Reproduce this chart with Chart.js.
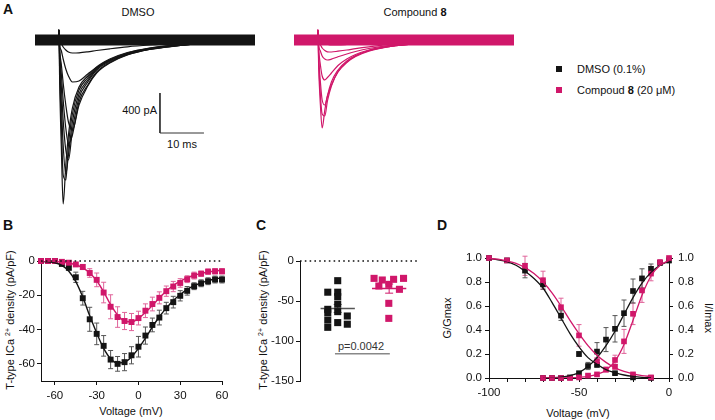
<!DOCTYPE html>
<html>
<head>
<meta charset="utf-8">
<script src="https://cdn.jsdelivr.net/npm/chart.js@4.4.1/dist/chart.umd.min.js"></script>
<style>
  body { margin: 0; width: 715px; height: 420px; position: relative; overflow: hidden; background: #fff;
         font-family: "Liberation Sans", Arial, sans-serif; color: #111; }
  canvas { position: absolute; }
  .txt { position: absolute; font-size: 11px; line-height: 1; white-space: nowrap; transform: translate(-50%, -50%); }
  .left { transform: translate(0, -50%); }
  .right { transform: translate(-100%, -50%); }
  .panel { position: absolute; font-size: 14px; font-weight: bold; line-height: 1; }
  .vt { transform: translate(-50%, -50%) rotate(-90deg); }
  .vt2 { transform: translate(-50%, -50%) rotate(90deg); }
  .sq { position: absolute; width: 6px; height: 6px; transform: translate(-50%, -50%); }
  sup { font-size: 7px; vertical-align: 4px; }
</style>
</head>
<body>
<div class="panel" style="left:3px;top:2px">A</div>
<div class="panel" style="left:3px;top:218px">B</div>
<div class="panel" style="left:256px;top:218px">C</div>
<div class="panel" style="left:437px;top:218px">D</div>

<div class="txt" style="left:138px;top:12px">DMSO</div>
<div class="txt" style="left:415px;top:12px">Compound <b>8</b></div>
<div class="txt right" style="left:157px;top:110px">400 pA</div>
<div class="txt" style="left:182px;top:144px">10 ms</div>

<div class="sq" style="left:559px;top:69px;background:#141414"></div>
<div class="txt left" style="left:577px;top:69px">DMSO (0.1%)</div>
<div class="sq" style="left:559px;top:90px;background:#d0176a"></div>
<div class="txt left" style="left:577px;top:90px">Compoud <b>8</b> (20 μM)</div>

<div class="txt vt" style="left:10px;top:320px">T-type ICa <sup>2+</sup> density (pA/pF)</div>
<div class="txt" style="left:131px;top:411px">Voltage (mV)</div>
<div class="txt vt" style="left:263px;top:320px">T-type ICa <sup>2+</sup> density (pA/pF)</div>
<div class="txt" style="left:361px;top:346px;color:#333">p=0.0042</div>
<div class="txt vt" style="left:447px;top:318px">G/Gmax</div>
<div class="txt vt2" style="left:708px;top:318px">I/Imax</div>
<div class="txt" style="left:578px;top:413px">Voltage (mV)</div>

<canvas id="trDmso" width="235" height="200" style="left:30px;top:15px"></canvas>
<canvas id="trCpd" width="231" height="200" style="left:289px;top:15px"></canvas>
<canvas id="ivChart" width="225" height="205" style="left:15px;top:215px"></canvas>
<canvas id="peakChart" width="162" height="205" style="left:268px;top:215px"></canvas>
<canvas id="gvChart" width="260" height="205" style="left:455px;top:215px"></canvas>

<script>
// ---------- A: current traces (time ms, current pA) ----------
const traceTimes = [0, 5.3, 5.45, 5.6, 6.0, 6.4, 7.0, 7.6, 8.5, 10, 12, 14, 17, 21, 26, 32, 40, 50];
const dmsoTraces = [
  [0, 0, 100, -5, -15, -25, -35, -40, -45, -45, -42, -38, -32, -25, -18, -12, -7, -3],
  [0, 0, 100, -15, -40, -70, -100, -120, -130, -128, -118, -105, -88, -68, -50, -34, -18, -8],
  [0, 0, 100, -40, -110, -190, -290, -360, -420, -410, -340, -275, -205, -140, -92, -58, -30, -12],
  [0, 0, 100, -90, -250, -430, -650, -820, -900, -650, -460, -330, -230, -150, -95, -60, -30, -12],
  [0, 0, 100, -120, -350, -600, -880, -1040, -950, -620, -450, -320, -225, -148, -93, -58, -29, -12],
  [0, 0, 100, -160, -480, -800, -1100, -1200, -900, -580, -420, -300, -215, -142, -90, -56, -28, -12],
  [0, 0, 100, -220, -650, -1050, -1340, -1150, -820, -540, -400, -290, -205, -136, -86, -54, -27, -11],
  [0, 0, 100, -300, -850, -1350, -1400, -1050, -740, -500, -380, -280, -198, -130, -83, -52, -26, -11],
  [0, 0, 100, -400, -1100, -1640, -1250, -950, -680, -470, -360, -270, -190, -125, -80, -50, -25, -10]
];
const cpdTraces = [
  [0, 0, 100, -5, -15, -25, -35, -42, -48, -48, -45, -40, -33, -25, -18, -11, -6, -2],
  [0, 0, 100, -20, -50, -80, -105, -118, -120, -112, -100, -86, -68, -48, -32, -20, -10, -4],
  [0, 0, 100, -40, -110, -160, -190, -200, -192, -168, -140, -115, -85, -58, -38, -23, -11, -4],
  [0, 0, 100, -80, -250, -360, -400, -375, -330, -255, -190, -145, -100, -66, -42, -25, -12, -5],
  [0, 0, 100, -150, -420, -600, -650, -560, -450, -320, -225, -165, -112, -72, -45, -27, -13, -5],
  [0, 0, 100, -200, -550, -740, -760, -610, -460, -315, -220, -160, -108, -70, -44, -26, -13, -5],
  [0, 0, 100, -250, -650, -880, -700, -560, -420, -300, -210, -155, -105, -68, -43, -26, -12, -5]
];
const baseTimes = [0, 50];
const baseLevel = [0, 0];
const barStart = { t: 28.4, i: -530 };
const barAmp = 400;   // pA
const barTime = 10;   // ms

// ---------- B: I-V relation ----------
const bVolts = [-70, -65, -60, -55, -50, -45, -40, -35, -30, -25, -20, -15, -10, -5, 0, 5, 10, 15, 20, 25, 30, 35, 40, 45, 50, 55, 60];
const bDmso = [0, 0, 0, -1.7, -4, -9.5, -21.7, -34, -42.5, -49.5, -57.5, -60, -59, -55, -50, -43.5, -37.3, -33, -27.5, -24, -20.3, -17.4, -14.7, -13, -11.8, -10.8, -10.8];
const bDmsoErr = [0, 0, 0, 0.5, 1, 3, 4, 7, 6.3, 6, 5.3, 4.3, 5, 5, 6, 5, 4, 4.3, 3.4, 3.4, 3, 2.5, 2, 2, 2, 2, 2];
const bCpd = [0, 0, 0, -0.5, -1, -2, -3.5, -7, -11, -18.4, -26.7, -32.7, -35, -35.6, -33.3, -29, -25.1, -21.5, -17.6, -14.9, -12.8, -10.6, -8.5, -7.4, -6.2, -6, -6];
const bCpdErr = [0, 0, 0, 0.3, 0.5, 1, 1.5, 2.5, 4, 6, 7, 6, 5, 5, 4, 4, 4, 3.5, 3, 3, 2.5, 2, 2, 1.5, 1.5, 1.5, 1.5];
const bDmsoFit = [-0.2, -0.5, -1, -2.5, -6, -12, -21, -32, -42, -51, -57, -59.5, -59, -56, -51, -45, -38.5, -32.5, -27.5, -23, -19.5, -16.5, -14.5, -12.8, -11.5, -10.5, -9.8];
const bCpdFit = [0, -0.1, -0.3, -0.6, -1.2, -2.2, -4, -7, -11.5, -18, -25.5, -31.5, -35, -35.5, -33.5, -30, -26, -21.5, -17.5, -14.3, -11.8, -9.8, -8.3, -7.2, -6.4, -5.8, -5.4];
const bTicksX = [-60, -30, 0, 30, 60];
const bTicksY = [0, -20, -40, -60];

// ---------- C: peak density scatter ----------
const cDmsoX = [0.81, 0.81, 0.81, 0.81, 0.81, 1.1, 1.1, 1.1, 1.1, 1.1, 1.1, 1.38, 1.38];
const cDmso = [-39, -60.4, -64.6, -73.8, -82.9, -24.6, -39, -44.6, -54, -63.3, -77, -68.75, -79];
const cCpdX = [2.16, 2.40, 2.73, 3.02, 2.30, 2.59, 2.90, 2.59, 2.59];
const cCpd = [-21.7, -23.75, -22.9, -21.7, -31.25, -29.2, -35.4, -52.9, -71.7];
const cGroupX = [1.1, 2.6];
const cTicksY = [0, -50, -100, -150];
const cPLine = { from: 1.02, to: 2.62, y: -116 };

// ---------- D: activation / inactivation ----------
const dInactV = [-100, -90, -80, -70, -60, -50, -40, -30, -20, -10];
const dInactDmso = [1.0, 0.98, 0.895, 0.78, 0.52, 0.2, 0.11, 0.04, 0.005, 0.0];
const dInactDmsoErr = [0, 0.01, 0.06, 0.04, 0.04, 0.02, 0.02, 0.01, 0.005, 0];
const dInactCpd = [1.0, 0.98, 0.935, 0.815, 0.59, 0.355, 0.14, 0.094, 0.03, 0.005];
const dInactCpdErr = [0, 0.01, 0.08, 0.075, 0.075, 0.09, 0.03, 0.02, 0.01, 0];
const dActV = [-70, -65, -60, -55, -50, -45, -40, -35, -30, -25, -20, -15, -10, -5, 0];
const dActDmso = [0, 0, 0, 0.005, 0.04, 0.1, 0.22, 0.32, 0.41, 0.54, 0.725, 0.83, 0.91, 0.96, 0.98];
const dActDmsoErr = [0, 0, 0, 0.005, 0.01, 0.03, 0.075, 0.1, 0.11, 0.11, 0.1, 0.08, 0.04, 0.02, 0.02];
const dActCpd = [0, 0, 0, 0, 0.005, 0.02, 0.03, 0.07, 0.15, 0.305, 0.535, 0.73, 0.87, 0.965, 1.0];
const dActCpdErr = [0, 0, 0, 0, 0.005, 0.01, 0.01, 0.02, 0.04, 0.1, 0.09, 0.1, 0.06, 0.02, 0.01];
const dFitInactV = [-100, -95, -90, -85, -80, -75, -70, -65, -60, -55, -50, -45, -40, -35, -30, -25, -20, -15, -10];
const dFitInactDmso = [0.995, 0.985, 0.97, 0.94, 0.89, 0.83, 0.75, 0.63, 0.5, 0.37, 0.26, 0.17, 0.115, 0.07, 0.045, 0.025, 0.013, 0.006, 0.003];
const dFitInactCpd = [0.995, 0.99, 0.975, 0.955, 0.92, 0.87, 0.8, 0.71, 0.6, 0.48, 0.37, 0.27, 0.19, 0.13, 0.085, 0.055, 0.035, 0.02, 0.012];
const dFitActV = [-70, -65, -60, -55, -50, -45, -40, -35, -30, -25, -20, -15, -10, -5, 0];
const dFitActDmso = [0, 0.003, 0.008, 0.02, 0.045, 0.095, 0.17, 0.27, 0.39, 0.53, 0.67, 0.79, 0.88, 0.94, 0.975];
const dFitActCpd = [0, 0, 0.001, 0.003, 0.006, 0.013, 0.03, 0.065, 0.14, 0.28, 0.48, 0.69, 0.85, 0.94, 0.98];
const dTicksX = [-100, -90, -80, -70, -60, -50, -40, -30, -20, -10, 0];
const dTicksY = [0, 0.2, 0.4, 0.6, 0.8, 1.0];

// ---------- styling ----------
const BLACK = '#141414';
const PINK = '#d0176a';
const GREY_ERR = '#555';
const PINK_ERR = '#e0649a';
const TICK_FONT = { size: 11.5 };

Chart.defaults.font.family = '"Liberation Sans", Arial, sans-serif';
Chart.defaults.font.size = 11;
Chart.defaults.color = '#111';
Chart.defaults.animation = false;
Chart.defaults.responsive = false;
Chart.defaults.events = [];
Chart.defaults.plugins.legend.display = false;
Chart.defaults.plugins.tooltip.enabled = false;

const pts = (xs, ys) => xs.map((x, i) => ({ x: x, y: ys[i] }));
const setTicks = list => scale => { scale.ticks = list.map(v => ({ value: v })); };

// error bars drawn from dataset.errors through the chart's scales
const errorBars = {
  id: 'errorBars',
  beforeDatasetsDraw(chart) {
    const ctx = chart.ctx;
    chart.data.datasets.forEach((ds, i) => {
      if (!ds.errors) return;
      const meta = chart.getDatasetMeta(i);
      const ys = chart.scales[meta.yAxisID];
      ctx.save();
      ctx.strokeStyle = ds.errorColor;
      ctx.lineWidth = 1;
      meta.data.forEach((p, j) => {
        const e = ds.errors[j];
        if (!e) return;
        const v = ds.data[j].y;
        const y1 = ys.getPixelForValue(v - e), y2 = ys.getPixelForValue(v + e);
        const cap = ds.capWidth || 2.5;
        ctx.beginPath();
        ctx.moveTo(p.x, y1); ctx.lineTo(p.x, y2);
        ctx.moveTo(p.x - cap, y1); ctx.lineTo(p.x + cap, y1);
        ctx.moveTo(p.x - cap, y2); ctx.lineTo(p.x + cap, y2);
        ctx.stroke();
      });
      ctx.restore();
    });
  }
};

function axisStyle(extra) {
  return Object.assign({
    type: 'linear',
    border: { display: true, color: '#111', width: 1 },
    grid: { display: true, drawOnChartArea: false, drawTicks: true, tickLength: 4, color: '#111' },
  }, extra);
}

// ---------- A ----------
function traceChart(id, x0, traces, color, bar) {
  const cv = document.getElementById(id);
  const left = parseFloat(cv.style.left), top = parseFloat(cv.style.top);
  const PX_MS = 4.4, PX_PA = 0.1, Y0 = 40;
  const datasets = [{
    data: pts(baseTimes, baseLevel), borderColor: color, borderWidth: 11,
    pointRadius: 0, clip: false
  }];
  traces.forEach(tr => datasets.push({
    data: pts(traceTimes, tr), borderColor: color, borderWidth: 1.2,
    pointRadius: 0, cubicInterpolationMode: 'monotone', clip: false
  }));
  if (bar) {
    datasets.push({
      data: [
        { x: barStart.t, y: barStart.i },
        { x: barStart.t, y: barStart.i - barAmp },
        { x: barStart.t + barTime, y: barStart.i - barAmp }
      ],
      borderColor: '#333', borderWidth: 1, pointRadius: 0, clip: false
    });
  }
  new Chart(cv, {
    type: 'line',
    data: { datasets: datasets },
    options: {
      layout: { padding: 0 },
      scales: {
        x: { type: 'linear', display: false, min: (left - x0) / PX_MS, max: (left + cv.width - x0) / PX_MS },
        y: { type: 'linear', display: false, max: (Y0 - top) / PX_PA, min: (Y0 - top - cv.height) / PX_PA }
      }
    }
  });
}
traceChart('trDmso', 35, dmsoTraces, BLACK, true);
traceChart('trCpd', 294, cpdTraces, PINK, false);

// ---------- B ----------
new Chart(document.getElementById('ivChart'), {
  type: 'line',
  data: {
    datasets: [
      { data: pts([-70, 60], [0, 0]), borderColor: '#111', borderWidth: 1.6, borderDash: [1.6, 3.2], pointRadius: 0, clip: false },
      { data: pts(bVolts, bCpdFit), borderColor: PINK, borderWidth: 1.4, pointRadius: 0, cubicInterpolationMode: 'monotone' },
      { data: pts(bVolts, bDmsoFit), borderColor: BLACK, borderWidth: 1.4, pointRadius: 0, cubicInterpolationMode: 'monotone' },
      { data: pts(bVolts, bCpd), showLine: false, pointStyle: 'rect', pointRadius: 4.2, backgroundColor: PINK, borderWidth: 0,
        errors: bCpdErr, errorColor: PINK_ERR, clip: false },
      { data: pts(bVolts, bDmso), showLine: false, pointStyle: 'rect', pointRadius: 4.2, backgroundColor: BLACK, borderWidth: 0,
        errors: bDmsoErr, errorColor: GREY_ERR, clip: false }
    ]
  },
  options: {
    layout: { padding: { top: 46, right: 18, left: 0, bottom: 0 } },
    scales: {
      x: axisStyle({ min: -70, max: 60, afterBuildTicks: setTicks(bTicksX), afterFit: s => { s.height = 39; },
        ticks: { font: TICK_FONT, padding: 4, maxRotation: 0, autoSkip: false } }),
      y: axisStyle({ min: -70, max: 0, afterBuildTicks: setTicks(bTicksY), afterFit: s => { s.width = 26; },
        ticks: { font: TICK_FONT, padding: 2, autoSkip: false } })
    }
  },
  plugins: [errorBars]
});

// ---------- C ----------
const mean = a => a.reduce((s, v) => s + v, 0) / a.length;
const sem = a => { const m = mean(a); return Math.sqrt(a.reduce((s, v) => s + (v - m) * (v - m), 0) / (a.length - 1) / a.length); };
const cMeans = [mean(cDmso), mean(cCpd)];
const cSems = [sem(cDmso), sem(cCpd)];
const halfW = 0.5;
new Chart(document.getElementById('peakChart'), {
  type: 'scatter',
  data: {
    datasets: [
      { type: 'line', data: pts([0, 3.5], [0, 0]), borderColor: '#111', borderWidth: 1.6, borderDash: [1.6, 3.2], pointRadius: 0, clip: false },
      { type: 'line', data: pts([cPLine.from, cPLine.to], [cPLine.y, cPLine.y]), borderColor: '#888', borderWidth: 1.5, pointRadius: 0 },
      { data: pts(cDmsoX, cDmso), pointStyle: 'rect', pointRadius: 5, backgroundColor: BLACK, borderWidth: 0, clip: false },
      { data: pts(cCpdX, cCpd), pointStyle: 'rect', pointRadius: 5, backgroundColor: PINK, borderWidth: 0, clip: false },
      { type: 'line', data: pts([cGroupX[0] - halfW, cGroupX[0] + halfW], [cMeans[0], cMeans[0]]), borderColor: '#555', borderWidth: 1.5, pointRadius: 0 },
      { type: 'line', data: pts([cGroupX[1] - halfW, cGroupX[1] + halfW], [cMeans[1], cMeans[1]]), borderColor: PINK, borderWidth: 1.5, pointRadius: 0 },
      { data: pts([cGroupX[0]], [cMeans[0]]), pointRadius: 0, errors: [cSems[0]], errorColor: '#555', capWidth: 4 },
      { data: pts([cGroupX[1]], [cMeans[1]]), pointRadius: 0, errors: [cSems[1]], errorColor: PINK, capWidth: 4 }
    ]
  },
  options: {
    layout: { padding: { top: 46, right: 10, left: 0, bottom: 39 } },
    scales: {
      x: { type: 'linear', display: false, min: 0, max: 3.5 },
      y: axisStyle({ min: -150, max: 0, afterBuildTicks: setTicks(cTicksY), afterFit: s => { s.width = 32; },
        ticks: { font: TICK_FONT, padding: 2, autoSkip: false } })
    }
  },
  plugins: [errorBars]
});

// ---------- D ----------
new Chart(document.getElementById('gvChart'), {
  type: 'line',
  data: {
    datasets: [
      { data: pts(dFitInactV, dFitInactCpd), yAxisID: 'y2', borderColor: PINK, borderWidth: 1.3, pointRadius: 0, cubicInterpolationMode: 'monotone' },
      { data: pts(dFitInactV, dFitInactDmso), yAxisID: 'y2', borderColor: BLACK, borderWidth: 1.3, pointRadius: 0, cubicInterpolationMode: 'monotone' },
      { data: pts(dFitActV, dFitActCpd), borderColor: PINK, borderWidth: 1.3, pointRadius: 0, cubicInterpolationMode: 'monotone' },
      { data: pts(dFitActV, dFitActDmso), borderColor: BLACK, borderWidth: 1.3, pointRadius: 0, cubicInterpolationMode: 'monotone' },
      { data: pts(dInactV, dInactCpd), yAxisID: 'y2', showLine: false, pointStyle: 'rect', pointRadius: 4, backgroundColor: PINK, borderWidth: 0,
        errors: dInactCpdErr, errorColor: PINK_ERR, clip: false },
      { data: pts(dActV, dActCpd), showLine: false, pointStyle: 'rect', pointRadius: 4, backgroundColor: PINK, borderWidth: 0,
        errors: dActCpdErr, errorColor: PINK_ERR, clip: false },
      { data: pts(dInactV, dInactDmso), yAxisID: 'y2', showLine: false, pointStyle: 'rect', pointRadius: 4, backgroundColor: BLACK, borderWidth: 0,
        errors: dInactDmsoErr, errorColor: GREY_ERR, clip: false },
      { data: pts(dActV, dActDmso), showLine: false, pointStyle: 'rect', pointRadius: 4, backgroundColor: BLACK, borderWidth: 0,
        errors: dActDmsoErr, errorColor: GREY_ERR, clip: false }
    ]
  },
  options: {
    layout: { padding: { top: 43, right: 0, left: 0, bottom: 0 } },
    scales: {
      x: axisStyle({ min: -100, max: 0, afterBuildTicks: setTicks(dTicksX), afterFit: s => { s.height = 42; },
        ticks: { font: TICK_FONT, padding: 4, maxRotation: 0, autoSkip: false, callback: v => (v % 50 === 0 ? String(v) : '') } }),
      y: axisStyle({ position: 'left', min: 0, max: 1, afterBuildTicks: setTicks(dTicksY), afterFit: s => { s.width = 34; },
        ticks: { font: TICK_FONT, padding: 3, autoSkip: false, callback: v => v.toFixed(1) } }),
      y2: axisStyle({ position: 'right', min: 0, max: 1, afterBuildTicks: setTicks(dTicksY), afterFit: s => { s.width = 46; },
        ticks: { font: TICK_FONT, padding: 5, autoSkip: false, callback: v => v.toFixed(1) } })
    }
  },
  plugins: [errorBars]
});
</script>
</body>
</html>
